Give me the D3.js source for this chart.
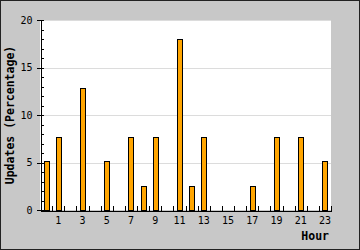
<!DOCTYPE html>
<html>
<head>
    <script src="https://cdn.jsdelivr.net/npm/d3@7/dist/d3.min.js"></script>
    <style>
        body { margin: 0; background: #fff; }
        svg { display: block; }
        .tick text { font-family: "DejaVu Sans Mono", monospace; font-size: 10px; fill: #000; }
        .title { font-family: "DejaVu Sans Mono", monospace; font-size: 11.5px; font-weight: bold; fill: #000; }
    </style>
</head>
<body>
    <svg width="360" height="250"></svg>
    <script>
        // hours of the day and share of updates in each (percent)
        var hours = d3.range(0, 24);
        var updates = [5.13, 7.69, 0, 12.82, 0, 5.13, 0, 7.69, 2.56, 7.69, 0, 17.95,
                       2.56, 7.69, 0, 0, 0, 2.56, 0, 7.69, 0, 7.69, 0, 5.13];
        var xLabels = [1, 3, 5, 7, 9, 11, 13, 15, 17, 19, 21, 23];
        var yMajor = [0, 5, 10, 15, 20];

        var svg = d3.select("svg"),
            plotLeft = 40, plotRight = 331, plotTop = 20, plotBottom = 210;

        svg.append("rect")
            .attr("x", 0.5).attr("y", 0.5)
            .attr("width", 359).attr("height", 249)
            .attr("fill", "#c8c8c8")
            .attr("stroke", "#222");

        svg.append("rect")
            .attr("x", plotLeft).attr("y", plotTop)
            .attr("width", plotRight - plotLeft).attr("height", plotBottom - plotTop)
            .attr("fill", "#fff");

        var x = d3.scaleBand().domain(hours).range([plotLeft, plotRight]);
        var xEdge = d3.scaleLinear().domain([0, 24]).range([plotLeft, plotRight]);
        var y = d3.scaleLinear().domain([0, 20]).range([plotBottom, plotTop]);

        // grid lines
        svg.append("g")
            .attr("transform", "translate(" + plotLeft + ",0)")
            .call(d3.axisRight(y).tickValues([5, 10, 15, 20]).tickSize(plotRight - plotLeft).tickFormat(""))
            .call(function(g) {
                g.select(".domain").remove();
                g.selectAll("line").attr("stroke", "#dcdcdc").attr("shape-rendering", "crispEdges");
            });

        // bars
        var barW = 5;
        svg.append("g").selectAll("rect")
            .data(hours.filter(function(h) { return updates[h] > 0; }))
            .enter().append("rect")
            .attr("x", function(h) { return Math.round(x(h) + x.bandwidth() / 2 - barW / 2) + 0.5; })
            .attr("y", function(h) { return Math.round(y(updates[h])) + 0.5; })
            .attr("width", barW)
            .attr("height", function(h) { return plotBottom - Math.round(y(updates[h])); })
            .attr("fill", "#ffa500")
            .attr("stroke", "#000")
            .attr("stroke-width", 1);

        // y axis: major ticks outward with labels
        svg.append("g")
            .attr("transform", "translate(" + (plotLeft + 0.5) + ",0)")
            .call(d3.axisLeft(y).tickValues(yMajor).tickSize(4).tickSizeOuter(0).tickPadding(4))
            .call(function(g) {
                g.selectAll("line,path").attr("stroke", "#000").attr("shape-rendering", "crispEdges");
            });

        // y axis: minor ticks inward
        svg.append("g")
            .attr("transform", "translate(" + (plotLeft + 0.5) + ",0)")
            .call(d3.axisRight(y).tickValues(d3.range(0, 21)).tickSize(3).tickFormat(""))
            .call(function(g) {
                g.select(".domain").remove();
                g.selectAll("line").attr("stroke", "#000").attr("shape-rendering", "crispEdges");
            });

        // x axis: ticks at hour boundaries
        svg.append("g")
            .attr("transform", "translate(0," + (plotBottom + 0.5) + ")")
            .call(d3.axisTop(xEdge).tickValues(d3.range(1, 25)).tickSize(5).tickSizeOuter(0).tickFormat(""))
            .call(function(g) {
                g.selectAll("line,path").attr("stroke", "#000").attr("shape-rendering", "crispEdges");
            });

        // x axis labels
        svg.append("g")
            .attr("transform", "translate(0," + plotBottom + ")")
            .call(d3.axisBottom(x).tickValues(xLabels).tickSize(0).tickPadding(7))
            .call(function(g) {
                g.select(".domain").remove();
            });

        svg.append("text")
            .attr("class", "title")
            .attr("x", 329).attr("y", 240)
            .attr("text-anchor", "end")
            .text("Hour");

        svg.append("text")
            .attr("class", "title")
            .attr("transform", "translate(14," + ((plotTop + plotBottom) / 2) + ") rotate(-90)")
            .attr("text-anchor", "middle")
            .text("Updates (Percentage)");
    </script>
</body>
</html>
